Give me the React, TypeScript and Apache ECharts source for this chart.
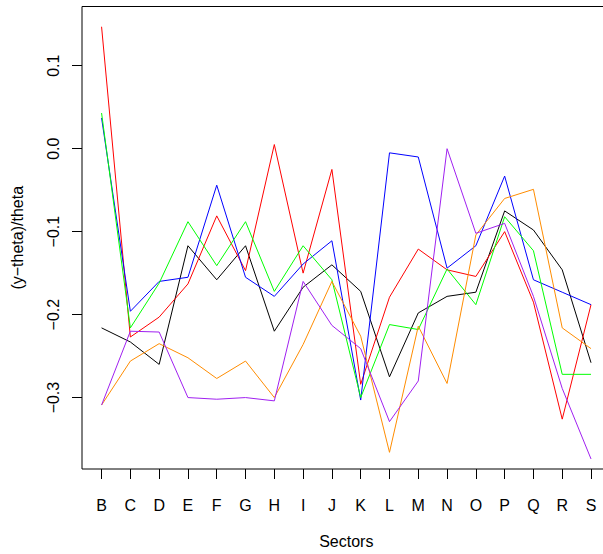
import React, { useEffect, useRef } from "react";
import * as echarts from "echarts";

const sectors = ["B", "C", "D", "E", "F", "G", "H", "I", "J", "K", "L", "M", "N", "O", "P", "Q", "R", "S"];
const yTicks = [-0.3, -0.2, -0.1, 0.0, 0.1];

const seriesBlack = [-0.216, -0.233, -0.260, -0.117, -0.158, -0.117, -0.220, -0.167, -0.140, -0.172, -0.275, -0.198, -0.178, -0.173, -0.075, -0.098, -0.146, -0.258];
const seriesRed = [0.147, -0.227, -0.203, -0.163, -0.081, -0.147, 0.005, -0.150, -0.025, -0.284, -0.179, -0.121, -0.146, -0.154, -0.100, -0.185, -0.326, -0.188];
const seriesBlue = [0.037, -0.196, -0.160, -0.155, -0.044, -0.155, -0.178, -0.139, -0.111, -0.303, -0.005, -0.010, -0.144, -0.117, -0.033, -0.158, -0.173, -0.188];
const seriesGreen = [0.043, -0.216, -0.162, -0.088, -0.141, -0.088, -0.172, -0.117, -0.158, -0.300, -0.212, -0.218, -0.145, -0.188, -0.082, -0.123, -0.272, -0.272];
const seriesOrange = [-0.309, -0.256, -0.235, -0.252, -0.277, -0.256, -0.300, -0.236, -0.160, -0.226, -0.366, -0.214, -0.283, -0.104, -0.060, -0.049, -0.216, -0.241];
const seriesPurple = [-0.309, -0.220, -0.221, -0.300, -0.302, -0.300, -0.304, -0.160, -0.213, -0.241, -0.329, -0.280, 0.000, -0.102, -0.090, -0.178, -0.289, -0.374];

const FONT = "'Liberation Sans', Arial, Helvetica, sans-serif";

export default function App() {
  const ref = useRef<HTMLDivElement>(null);

  useEffect(() => {
    document.body.style.margin = "0";
    if (!ref.current) return;
    const chart = echarts.init(ref.current, undefined, { renderer: "svg" });
    const xIdx = sectors.map((_, i) => i + 1);
    const mk = (name: string, vals: number[], color: string) => ({
      name,
      type: "line",
      data: vals.map((v, i) => [i + 1, v]),
      symbol: "none",
      silent: true,
      lineStyle: { width: 1, color },
      itemStyle: { color },
    });
    chart.setOption({
      animation: false,
      backgroundColor: "#fff",
      grid: {
        left: 82,
        top: 6.5,
        width: 528.6,
        height: 470,
        show: true,
        borderColor: "#000",
        borderWidth: 1,
        backgroundColor: "transparent",
      },
      xAxis: {
        type: "value",
        min: 0.32,
        max: 18.68,
        name: "Sectors",
        nameLocation: "middle",
        nameGap: 64,
        nameTextStyle: { fontSize: 16, color: "#000", fontFamily: FONT },
        axisLine: { show: false, onZero: false },
        splitLine: { show: false },
        axisTick: { show: true, length: 10, customValues: xIdx, lineStyle: { color: "#000", width: 1 } },
        axisLabel: {
          customValues: xIdx,
          formatter: (v: number) => sectors[Math.round(v) - 1] ?? "",
          fontSize: 16,
          color: "#000",
          fontFamily: FONT,
          margin: 28,
        },
      },
      yAxis: {
        type: "value",
        min: -0.3861,
        max: 0.1714,
        name: "(y\u2212theta)/theta",
        nameLocation: "middle",
        nameGap: 57,
        nameRotate: 90,
        nameTextStyle: { fontSize: 16, color: "#000", fontFamily: FONT },
        axisLine: { show: false, onZero: false },
        splitLine: { show: false },
        axisTick: { show: true, length: 10, customValues: yTicks, lineStyle: { color: "#000", width: 1 } },
        axisLabel: {
          customValues: yTicks,
          formatter: (v: number) => v.toFixed(1).replace("-", "\u2212"),
          rotate: 90,
          fontSize: 16,
          color: "#000",
          fontFamily: FONT,
          margin: 21,
        },
      },
      series: [
        mk("black", seriesBlack, "#000000"),
        mk("red", seriesRed, "#FF0000"),
        mk("blue", seriesBlue, "#0000FF"),
        mk("green", seriesGreen, "#00FF00"),
        mk("orange", seriesOrange, "#FF8C00"),
        mk("purple", seriesPurple, "#A020F0"),
      ],
    });
    return () => chart.dispose();
  }, []);

  return (
    <div style={{ position: "absolute", left: 0, top: 0, width: 603, height: 554, overflow: "hidden", background: "#fff" }}>
      <div ref={ref} style={{ width: 630, height: 554 }} />
    </div>
  );
}
